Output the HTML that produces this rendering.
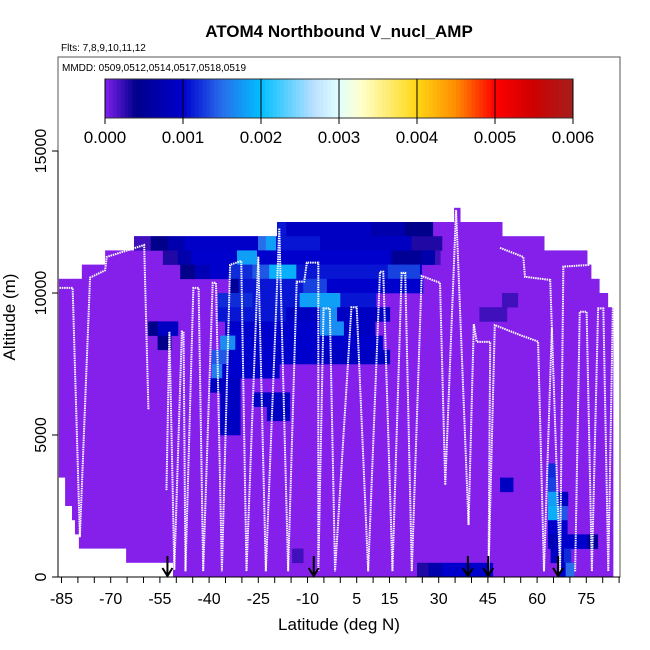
<!DOCTYPE html>
<html><head><meta charset="utf-8"><style>
body{margin:0;background:#fff}
svg{display:block;font-family:"Liberation Sans",sans-serif}
</style></head><body>
<svg id="chart" width="650" height="650" viewBox="0 0 650 650">
<text x="339" y="37" text-anchor="middle" font-size="17" font-weight="bold">ATOM4 Northbound V_nucl_AMP</text>
<text x="61" y="51" font-size="10">Flts: 7,8,9,10,11,12</text>
<g id="plot"></g>
<rect x="58" y="57" width="562" height="520" fill="none" stroke="#555" stroke-width="1"/>
<text x="62" y="71" font-size="10">MMDD: 0509,0512,0514,0517,0518,0519</text>
<g id="cbar"></g>
<g id="axes"></g>
<text x="339" y="630" text-anchor="middle" font-size="17">Latitude (deg N)</text>
<text transform="translate(15,317) rotate(-90)" text-anchor="middle" font-size="17">Altitude (m)</text>
</svg>
<script>
// ---- data ----
const xTicks = [-85,-80,-75,-70,-65,-60,-55,-50,-45,-40,-35,-30,-25,-20,-15,-10,-5,0,5,10,15,20,25,30,35,40,45,50,55,60,65,70,75,80,85];
const xTickLabels = [-85,-70,-55,-40,-25,-10,5,15,30,45,60,75];
const yTicks = [0,5000,10000,15000];
const cbarTicks = [0,0.001,0.002,0.003,0.004,0.005,0.006];
const cbarLabels = ["0.000","0.001","0.002","0.003","0.004","0.005","0.006"];
// purple envelope columns: [lat0, lat1, bottomAlt, topAlt]
const envelope = [
 [-85.8,-83.9,3500,10500],[-83.9,-81.8,2500,10500],[-81.8,-80.9,2000,10500],[-80.9,-79.7,1500,10500],
 [-79.7,-78.8,1000,10500],[-78.8,-71.7,1000,11000],[-71.7,-65.3,1000,11500],[-65.3,-62.9,500,11500],
 [-62.9,-51.0,500,12000],[-51.0,-19.3,0,12000],[-19.3,34.7,0,12500],[34.7,36.5,0,13000],
 [36.5,49.3,0,12500],[49.3,62.1,0,12000],[62.1,75.2,0,11500],[75.2,76.4,0,11000],
 [76.4,78.9,0,10500],[78.9,81.5,0,10000],[81.5,83.1,0,9500]
];
// cells by altitude bin base: [binBase, lat0, lat1, value]
const cells = [
 [12000,-19.3,-16.5,0.0011],[12000,-16.5,9.3,0.0009],[12000,9.3,19.7,0.0007],[12000,19.7,28.2,0.0004],
 [11500,-62.9,-57.8,0.0002],[11500,-57.8,-52.6,0.0004],[11500,-52.6,-47.5,0.0007],[11500,-47.5,-25.1,0.00095],[11500,-25.1,-22.7,0.0015],[11500,-22.7,-19.6,0.0018],[11500,-19.6,-6.2,0.0011],[11500,-6.2,21.7,0.0009],[11500,21.7,31.0,0.0003],
 [11000,-54.1,-49.5,0.0003],[11000,-49.5,-45.4,0.0007],[11000,-45.4,-31.5,0.001],[11000,-31.5,-25.4,0.0018],[11000,-25.4,15.5,0.001],[11000,15.5,24.8,0.0005],[11000,24.8,28.9,0.0007],[11000,28.9,30.5,0.0002],
 [10500,-48.8,-44.4,0.0004],[10500,-44.4,-39.7,0.0008],[10500,-39.7,-33.6,0.001],[10500,-33.6,-26.8,0.0012],[10500,-26.8,-21.7,0.0014],[10500,-21.7,-13.4,0.0019],[10500,-13.4,14.5,0.0011],[10500,14.5,24.3,0.0013],[10500,24.3,24.8,0.001],
 [10000,-33.6,-31.0,0.0005],[10000,-31.0,-11.3,0.0011],[10000,-11.3,-4.1,0.0013],[10000,-4.1,25.2,0.001],
 [9500,-37.3,-26.8,0.0012],[9500,-26.8,-12.4,0.0011],[9500,-12.4,0,0.0018],[9500,0,10.9,0.0011],[9500,49.3,54.1,0.0002],
 [9000,-37.3,-16.5,0.0011],[9000,-16.5,-6.2,0.0009],[9000,-6.2,-1.0,0.0017],[9000,-1.0,15.1,0.0009],[9000,42.4,50.8,0.0002],
 [8500,-58.6,-55.7,0.0004],[8500,-55.7,-49.5,0.0009],[8500,-35.1,-6.2,0.001],[8500,-6.2,1.1,0.0017],[8500,1.1,10.6,0.0009],
 [8000,-55.7,-51.6,0.0004],[8000,-36.6,-32.0,0.0017],[8000,-32.0,12.9,0.001],
 [7500,-39.2,-34.1,0.0014],[7500,-34.1,-6.2,0.001],[7500,-6.2,15.1,0.0009],
 [7000,-39.2,-36.0,0.0016],[7000,-36.0,-18.6,0.001],
 [6500,-39.7,-30.5,0.0009],
 [6000,-36.6,-30.5,0.0009],[6000,-26.6,-15.4,0.0009],
 [5500,-36.6,-30.5,0.0009],[5500,-22.4,-15.4,0.0009],
 [5000,-36.6,-30.5,0.0009],
 [3500,63.3,65.6,0.0012],
 [3000,63.3,65.6,0.0013],[3000,48.7,52.7,0.0009],
 [2500,63.3,66.1,0.0018],[2500,66.1,69.4,0.0009],
 [2000,63.3,66.1,0.0019],[2000,66.1,69.2,0.0014],
 [1500,63.3,69.2,0.001],
 [1000,63.3,66.1,0.0008],[1000,66.1,75.4,0.001],[1000,75.4,78.5,0.0005],
 [500,64.1,68.2,0.0009],[500,68.2,70.3,0.0012],[500,-14.7,-11.3,0.0002],
 [0,66.1,68.7,0.001],[0,68.7,71.3,0.0015],[0,23.4,26.9,0.0003],[0,26.9,31.0,0.0007],[0,31.0,46.5,0.001]
];
// flight track segments [lat, alt]
const trackA = [[-85.6,10180],[-81.6,10180],[-79.4,1400],[-76.3,10540],[-71.7,10800],[-71.2,11270],[-59.8,11690],[-58.5,5880]];
const trackB = [[-53.0,3060],[-52.1,8640],[-50.6,250],[-48.3,8640],[-47.8,8640],[-47.2,200],[-44.8,10180],[-43.2,10180],[-41.8,200],[-38.9,10360],[-37.9,10360],[-36.1,200],[-33.6,10990],[-30.2,11130],[-28.6,200],[-25.0,11280],[-22.7,200],[-18.6,12280],[-15.9,200],[-13.3,10400],[-11.0,10400],[-10.2,11070],[-6.7,11070],[-6.7,200],[-5.1,9460],[-3.2,9460],[-1.6,200],[3.4,9500],[5.0,9500],[8.5,200],[12.1,10750],[13.1,10750],[15.9,200],[18.7,10710],[19.8,10710],[21.8,200],[24.8,10600],[30.4,10360],[32.0,3240],[35.3,12920],[39.1,1830],[40.7,8910],[41.6,8280],[45.7,8280],[45.2,200],[47.1,8870],[54.8,8520],[60.3,8290],[62.1,200],[64.5,8770],[67.0,200]];
const trackC = [[48.7,11590],[55.8,11270],[56.3,10570],[64.0,10460],[64.5,8770]];
const trackD = [[67.0,200],[68.0,10930],[76.1,10990]];
const trackE = [[71.6,200],[73.0,9340],[75.1,9340],[76.7,200],[78.6,9460],[80.2,9460],[81.7,200],[83.1,9520]];
const arrowLats = [-52.7,-8.1,38.9,45.1,66.4];

// ---- scales ----
const X0=61.5, PXD=3.28, Y0=577, PXM=0.0284;
function xs(lat){return X0+(lat+85)*PXD;}
function ys(alt){return Y0-alt*PXM;}
const NS="http://www.w3.org/2000/svg";
function mk(tag,attrs,parent){const e=document.createElementNS(NS,tag);for(const k in attrs)e.setAttribute(k,attrs[k]);parent.appendChild(e);return e;}
const stops=[[0,[128,32,238]],[0.0004,[0,0,139]],[0.001,[0,0,205]],[0.0015,[40,110,235]],[0.002,[0,191,255]],[0.0027,[190,225,255]],[0.003,[225,255,255]],[0.0033,[255,255,200]],[0.004,[255,215,20]],[0.0045,[255,140,0]],[0.005,[255,0,0]],[0.0055,[205,0,0]],[0.006,[165,30,30]]];
function col(v){
 if(v<=0)return "rgb(128,32,238)";
 for(let i=1;i<stops.length;i++){if(v<=stops[i][0]){const a=stops[i-1],b=stops[i];const t=(v-a[0])/(b[0]-a[0]);const c=a[1].map((q,j)=>Math.round(q+(b[1][j]-q)*t));return "rgb("+c.join(",")+")";}}
 return "rgb(165,30,30)";
}
const plot=document.getElementById('plot');
envelope.forEach(e=>{
 const r=mk('rect',{x:xs(e[0]),y:ys(e[3]),width:xs(e[1])-xs(e[0])+0.5,height:ys(e[2])-ys(e[3]),fill:"#8420EA"},plot);
 
 
});
cells.forEach(c=>{
 const r=mk('rect',{x:xs(c[1]),y:ys(c[0]+500),width:xs(c[2])-xs(c[1])+0.3,height:500*PXM+0.3,fill:col(c[3])},plot);
 
 
});
[trackA,trackB,trackC,trackD,trackE].forEach(t=>{
 const p=mk('polyline',{points:t.map(d=>xs(d[0])+","+ys(d[1])).join(" "),fill:"none",stroke:"#fff","stroke-width":2,"stroke-dasharray":"1.5 0.8"},plot);
 
 
});
arrowLats.forEach(a=>{
 const g=mk('g',{stroke:"#000","stroke-width":2,fill:"none"},plot);
 
 
 const x=xs(a);
 mk('line',{x1:x,y1:556,x2:x,y2:576},g);
 mk('polyline',{points:(x-5)+",568 "+x+",576 "+(x+5)+",568"},g);
});
// colorbar
const cb=document.getElementById('cbar');
const CB0=105,CB1=573,CBT=79,CBB=118;
const cbx=v=>CB0+(v/0.006)*(CB1-CB0);
for(let i=0;i<120;i++){
 const v=(i+0.5)*0.006/120;
 const r=mk('rect',{x:cbx(i*0.006/120),y:CBT,width:(CB1-CB0)/120+0.4,height:CBB-CBT,fill:col(v)},cb);
 
 
}
mk('rect',{x:CB0,y:CBT,width:CB1-CB0,height:CBB-CBT,fill:"none",stroke:"#333","stroke-width":1},cb);
cbarTicks.forEach((v,i)=>{
 const x=cbx(v);
 mk('line',{x1:x,y1:CBT,x2:x,y2:CBB+6,stroke:"#000","stroke-width":1},cb);
 const t=mk('text',{x:x,y:143,"text-anchor":"middle","font-size":17},cb);
 t.textContent=cbarLabels[i];
 
 
});
// axes
const ax=document.getElementById('axes');
mk('line',{x1:58,y1:577,x2:620,y2:577,stroke:"#000","stroke-width":1},ax);
xTicks.forEach(v=>{const x=xs(v);if(x>620)return;mk('line',{x1:x,y1:577,x2:x,y2:583,stroke:"#000","stroke-width":1},ax);});
xTickLabels.forEach(v=>{
 const t=mk('text',{x:xs(v),y:604,"text-anchor":"middle","font-size":16},ax);
 t.textContent=String(v);
 
 
});
mk('line',{x1:58,y1:ys(0),x2:58,y2:ys(15000),stroke:"#000","stroke-width":1},ax);
yTicks.forEach(v=>{
 const y=ys(v);
 mk('line',{x1:52,y1:y,x2:58,y2:y,stroke:"#000","stroke-width":1},ax);
 const t=mk('text',{transform:"translate(46,"+y+") rotate(-90)","text-anchor":"middle","font-size":16},ax);
 t.textContent=String(v);
 
 
});
</script>
</body></html>
